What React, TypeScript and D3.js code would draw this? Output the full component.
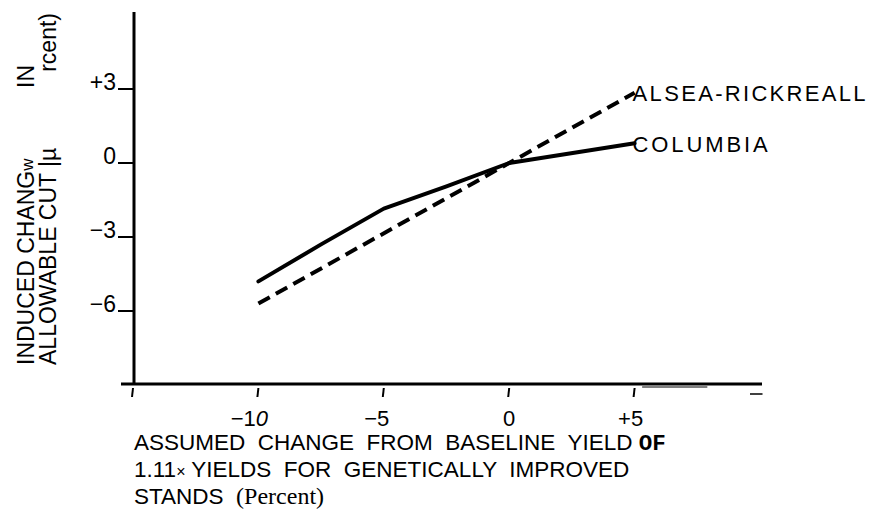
import React from 'react';
import * as d3 from 'd3';

// ---- data ----
const xTicks = [-15, -10, -5, 0, 5];
const xTickLabels = ['', '−1', '−5', '0', '+5'];
const xTickShift = [0, -9, -7, 0, -4];
const yTicks = [3, 0, -3, -6];
const yTickLabels = ['+3', '0', '−3', '−6'];

const columbiaX = [-10, -7.5, -5, -2.5, 0, 5];
const columbiaY = [-4.8, -3.3, -1.85, -0.95, 0, 0.8];
const alseaX = [-10, 0, 5];
const alseaY = [-5.7, 0, 2.85];

const seriesNames = ['ALSEA-RICKREALL', 'COLUMBIA'];

const SANS = '"Liberation Sans", Arial, Helvetica, sans-serif';

export default function App() {
  const x = d3.scaleLinear().domain([-15, 10]).range([133, 760]);
  const y = d3.scaleLinear().domain([-9, 6]).range([385, 15]);

  const line = d3
    .line<[number, number]>()
    .x((d) => x(d[0]))
    .y((d) => y(d[1]));

  const colPts: [number, number][] = columbiaX.map((v, i) => [v, columbiaY[i]]);
  const alsPts: [number, number][] = alseaX.map((v, i) => [v, alseaY[i]]);

  const x0 = x(-15);
  const yBase = y(-9) - 1;

  return (
    <svg
      width={872}
      height={516}
      style={{ position: 'absolute', left: 0, top: 0, background: '#fff' }}
      fontFamily={SANS}
    >
      <rect x={0} y={0} width={872} height={516} fill="#fff" />
      {/* axes */}
      <line x1={x0 + 1} x2={x0 + 1} y1={12} y2={yBase} stroke="#000" strokeWidth={3} />
      <line x1={121} x2={x(10) + 2} y1={yBase} y2={yBase} stroke="#000" strokeWidth={3} />
      {/* faint scan stroke under axis */}
      <line x1={x(5.3)} x2={x(7.9)} y1={yBase + 3} y2={yBase + 3} stroke="#555" strokeWidth={1.5} />

      {/* x ticks */}
      {xTicks.map((t, i) => (
        <g key={'xt' + t}>
          <line x1={x(t)} x2={x(t) - 1} y1={yBase + 4} y2={yBase + 13} stroke="#000" strokeWidth={2} />
          {xTickLabels[i] && (
            <text
              x={x(t) + xTickShift[i]}
              y={yBase + 42}
              fontSize={22}
              textAnchor="middle"
              fill="#000"
            >
              {xTickLabels[i]}
              {t === -10 && <tspan fontStyle="italic">0</tspan>}
            </text>
          )}
        </g>
      ))}
      <line x1={x(9.6)} x2={x(10.1)} y1={yBase + 10} y2={yBase + 10} stroke="#000" strokeWidth={1.5} />

      {/* y ticks */}
      {yTicks.map((t, i) => (
        <g key={'yt' + t}>
          <line x1={x0 - 15} x2={x0} y1={y(t)} y2={y(t)} stroke="#000" strokeWidth={2} />
          <text x={x0 - 17} y={y(t) + 1} fontSize={23} textAnchor="end" fill="#000">
            {yTickLabels[i]}
          </text>
        </g>
      ))}

      {/* series */}
      <path d={line(alsPts) || ''} fill="none" stroke="#000" strokeWidth={4} strokeDasharray="13 7" />
      <path d={line(colPts) || ''} fill="none" stroke="#000" strokeWidth={4} strokeLinecap="round" strokeLinejoin="round" />

      <text x={x(5) - 2} y={y(alseaY[2]) + 8} fontSize={22} textLength={233} lengthAdjust="spacing" fill="#000">
        {seriesNames[0]}
      </text>
      <text x={x(5) - 2} y={y(columbiaY[5]) + 9} fontSize={22} textLength={135} lengthAdjust="spacing" fill="#000">
        {seriesNames[1]}
      </text>

      {/* y title */}
      <g transform="rotate(-90)">
        <text x={-365} y={34} fontSize={23} fill="#000">
          INDUCED CHANG<tspan fontSize={17} dy={-1}>w</tspan>
        </text>
        <text x={-65} y={34} fontSize={23} fill="#000" textAnchor="end">IN</text>
        <text x={-365} y={56} fontSize={23} fill="#000">
          ALLOWABLE CUT |µ
        </text>
        <text x={-13} y={56} fontSize={23} fill="#000" textAnchor="end">rcent)</text>
      </g>

      {/* x title */}
      <text x={134} y={450} fontSize={22.5} fill="#000" xmlSpace="preserve">
        {'ASSUMED  CHANGE  FROM  BASELINE  YIELD '}
        <tspan fontFamily='"Liberation Mono", "DejaVu Sans Mono", monospace' fontWeight="bold">OF</tspan>
      </text>
      <text x={134} y={477} fontSize={22.5} fill="#000" xmlSpace="preserve">
        {'1.11'}
        <tspan fontSize={16}>{'×'}</tspan>
        {' YIELDS  FOR  GENETICALLY  IMPROVED'}
      </text>
      <text x={134} y={504} fontSize={22.5} fill="#000" xmlSpace="preserve">
        {'STANDS  '}
        <tspan fontFamily='"Liberation Serif", "Times New Roman", serif' fontSize={24}>(Percent)</tspan>
      </text>
    </svg>
  );
}
